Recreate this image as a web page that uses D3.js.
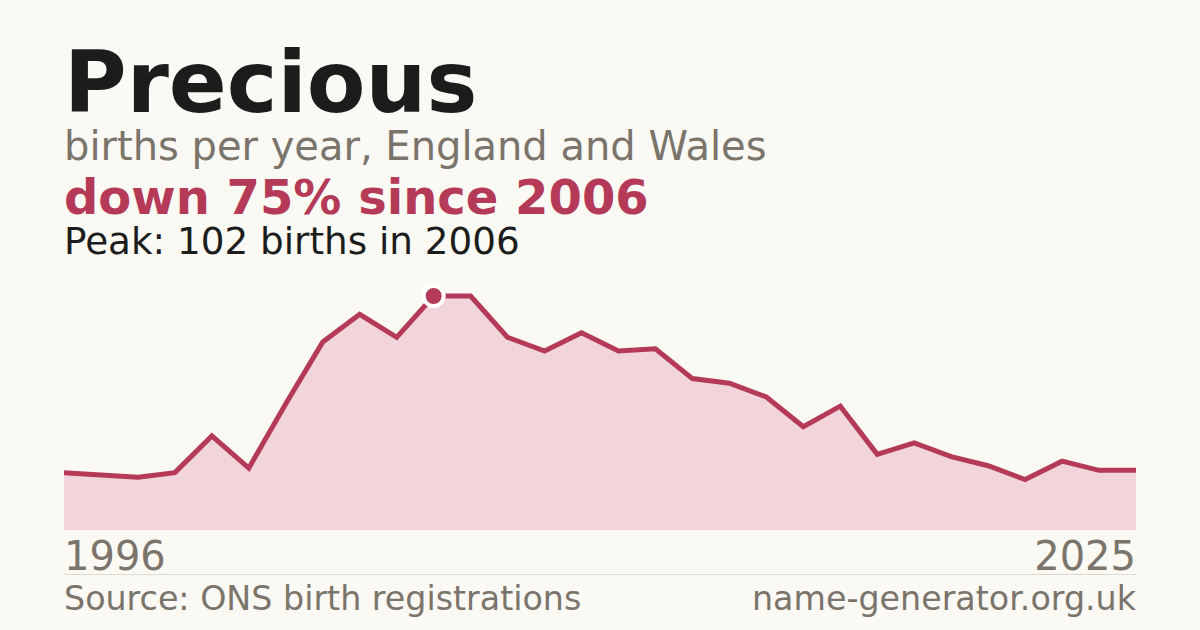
<!DOCTYPE html>
<html lang="en">
<head>
    <meta charset="UTF-8">
    <title>Precious - births per year</title>
    <script src="https://d3js.org/d3.v7.min.js"></script>
    <style>
        body {
            margin: 0;
            background-color: #faf9f4;
        }
        svg {
            display: block;
            font-family: "DejaVu Sans", sans-serif;
        }
    </style>
</head>
<body>
    <svg id="chart" width="1200" height="630"></svg>

    <script>
        // births per year
        const years = d3.range(1996, 2026);
        const births = [25, 24, 23, 25, 41, 27, 55, 82, 94, 84,
                         102, 102, 84, 78, 86, 78, 79, 66, 64, 58,
                         45, 54, 33, 38, 32, 28, 22, 30, 26, 26];

        const nameTitle = "Precious";
        const subtitle = "births per year, England and Wales";
        const sourceText = "Source: ONS birth registrations";
        const siteText = "name-generator.org.uk";

        const red = "#b43a58";
        const grey = "#7a746b";

        const peakIdx = d3.maxIndex(births);
        const peak = births[peakIdx];
        const last = births[births.length - 1];
        const change = Math.round((peak - last) / peak * 100);

        const data = years.map((y, i) => ({ year: y, value: births[i] }));

        const svg = d3.select("#chart");

        const margin = { left: 64, right: 64 },
              plotTop = 296, plotBottom = 530;

        const x = d3.scaleLinear()
            .domain(d3.extent(years))
            .range([margin.left, 1200 - margin.right]);
        const y = d3.scaleLinear()
            .domain([0, peak])
            .range([plotBottom, plotTop]);

        // header texts
        svg.append("text")
            .attr("x", 64).attr("y", 112)
            .attr("font-size", 85.5).attr("font-weight", "bold")
            .attr("fill", "#1c1c1c")
            .text(nameTitle);

        svg.append("text")
            .attr("x", 64).attr("y", 160)
            .attr("font-size", 40)
            .attr("fill", grey)
            .text(subtitle);

        svg.append("text")
            .attr("x", 64).attr("y", 214)
            .attr("font-size", 48).attr("font-weight", "bold")
            .attr("fill", red)
            .text(`down ${change}% since ${years[peakIdx]}`);

        svg.append("text")
            .attr("x", 64).attr("y", 254)
            .attr("font-size", 37.3)
            .attr("fill", "#1c1c1c")
            .text(`Peak: ${peak} births in ${years[peakIdx]}`);

        // area + line
        const area = d3.area()
            .x(d => x(d.year))
            .y0(y(0))
            .y1(d => y(d.value));

        const line = d3.line()
            .x(d => x(d.year))
            .y(d => y(d.value));

        svg.append("path")
            .datum(data)
            .attr("d", area)
            .attr("fill", "#f2d5da");

        svg.append("path")
            .datum(data)
            .attr("d", line)
            .attr("fill", "none")
            .attr("stroke", red)
            .attr("stroke-width", 5)
            .attr("stroke-linejoin", "miter");

        // peak marker
        svg.append("circle")
            .attr("cx", x(years[peakIdx]))
            .attr("cy", y(peak))
            .attr("r", 10)
            .attr("fill", red)
            .attr("stroke", "#ffffff")
            .attr("stroke-width", 4);

        // year labels
        svg.append("text")
            .attr("x", x(years[0])).attr("y", 570)
            .attr("font-size", 40)
            .attr("fill", grey)
            .text(years[0]);

        svg.append("text")
            .attr("x", x(years[years.length - 1])).attr("y", 570)
            .attr("text-anchor", "end")
            .attr("font-size", 40)
            .attr("fill", grey)
            .text(years[years.length - 1]);

        // footer
        svg.append("line")
            .attr("x1", 64).attr("x2", 1136)
            .attr("y1", 574.5).attr("y2", 574.5)
            .attr("stroke", "#dedad2")
            .attr("stroke-width", 1);

        svg.append("text")
            .attr("x", 64).attr("y", 610)
            .attr("font-size", 33.3)
            .attr("fill", grey)
            .text(sourceText);

        svg.append("text")
            .attr("x", 1136).attr("y", 610)
            .attr("text-anchor", "end")
            .attr("font-size", 33.3)
            .attr("fill", grey)
            .text(siteText);
    </script>
</body>
</html>
